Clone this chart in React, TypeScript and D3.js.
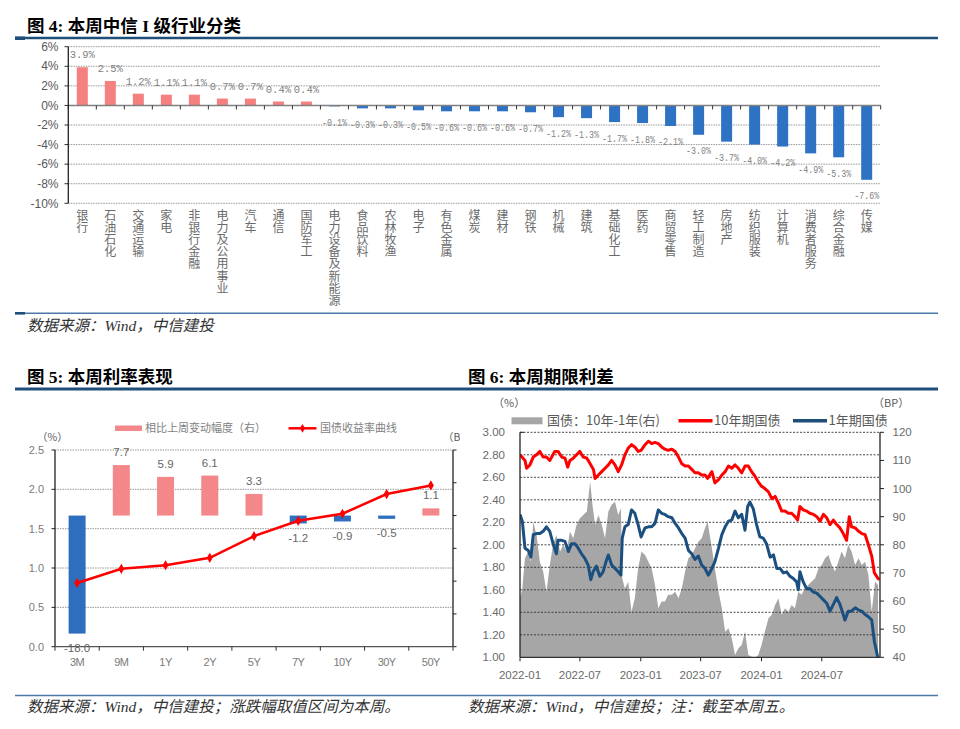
import React from 'react';
import * as d3 from 'd3';

// ---------- 图4 data ----------
const industries = ['银行','石油石化','交通运输','家电','非银行金融','电力及公用事业','汽车','通信','国防军工','电力设备及新能源','食品饮料','农林牧渔','电子','有色金属','煤炭','建材','钢铁','机械','建筑','基础化工','医药','商贸零售','轻工制造','房地产','纺织服装','计算机','消费者服务','综合金融','传媒'];
const industryChange = [3.9,2.5,1.2,1.1,1.1,0.7,0.7,0.4,0.4,-0.1,-0.3,-0.3,-0.5,-0.6,-0.6,-0.6,-0.7,-1.2,-1.3,-1.7,-1.8,-2.1,-3.0,-3.7,-4.0,-4.2,-4.9,-5.3,-7.6];
const fig4Ticks = [6,4,2,0,-2,-4,-6,-8,-10];

// ---------- 图5 data ----------
const tenors = ['3M','9M','1Y','2Y','5Y','7Y','10Y','30Y','50Y'];
const yieldCurve = [0.81,0.99,1.035,1.13,1.405,1.60,1.69,1.94,2.05];
const weeklyChangeBP = [-18.0,7.7,5.9,6.1,3.3,-1.2,-0.9,-0.5,1.1];
const fig5LeftTicks = [0,0.5,1.0,1.5,2.0,2.5];
const fig5RightTicks = [-20,-15,-10,-5,0,5,10];

// ---------- 图6 data (day offset from 2022-01-01, value) ----------
const yield10Y: [number, number][] = [
  [0,2.80],[15,2.75],[20,2.68],[30,2.71],[40,2.78],[50,2.80],[60,2.83],[70,2.78],[80,2.78],[90,2.75],
  [105,2.83],[115,2.83],[126,2.78],[136,2.77],[144,2.69],[151,2.75],[161,2.77],[171,2.80],[181,2.83],[191,2.78],
  [202,2.77],[212,2.72],[222,2.67],[227,2.59],[237,2.62],[247,2.65],[257,2.68],[267,2.71],[277,2.75],[287,2.71],
  [297,2.65],[307,2.71],[317,2.80],[327,2.86],[337,2.89],[347,2.87],[357,2.83],[366,2.84],[378,2.89],[388,2.92],
  [398,2.90],[408,2.91],[418,2.90],[428,2.87],[438,2.85],[448,2.84],[459,2.85],[469,2.83],[479,2.78],[489,2.72],
  [499,2.70],[509,2.70],[519,2.67],[529,2.64],[539,2.64],[549,2.62],[559,2.62],[567,2.59],[580,2.65],[589,2.55],
  [600,2.58],[610,2.62],[620,2.65],[630,2.70],[640,2.68],[650,2.71],[660,2.68],[670,2.64],[680,2.70],[690,2.70],
  [700,2.65],[710,2.61],[720,2.56],[730,2.52],[740,2.50],[751,2.47],[761,2.41],[771,2.43],[781,2.37],[791,2.30],
  [801,2.30],[811,2.28],[821,2.28],[831,2.25],[839,2.22],[846,2.34],[856,2.31],[866,2.30],[876,2.28],[887,2.27],
  [897,2.25],[907,2.21],[917,2.27],[927,2.24],[937,2.18],[947,2.22],[957,2.18],[967,2.15],[977,2.10],[987,2.04],
  [995,2.25],[1002,2.16],[1013,2.15],[1023,2.12],[1033,2.10],[1043,2.09],[1053,2.00],[1063,1.90],[1071,1.75],[1082,1.70],[1086,1.69]
];
const yield1Y: [number, number][] = [
  [0,2.27],[7,2.21],[15,1.97],[25,1.95],[33,1.89],[40,2.09],[50,2.10],[60,2.10],[70,2.12],[80,2.16],
  [90,2.12],[100,2.01],[110,1.92],[115,2.04],[126,2.04],[136,2.03],[146,1.94],[156,2.01],[166,2.01],[176,1.97],
  [186,1.92],[196,1.88],[206,1.82],[214,1.69],[221,1.76],[231,1.81],[241,1.72],[251,1.76],[262,1.87],[267,1.91],
  [277,1.82],[287,1.79],[297,1.76],[305,1.73],[309,2.06],[317,2.16],[327,2.18],[337,2.31],[347,2.28],[357,2.18],
  [366,2.07],[378,2.15],[388,2.16],[398,2.16],[408,2.19],[418,2.31],[428,2.28],[438,2.27],[448,2.25],[459,2.24],
  [469,2.19],[479,2.15],[489,2.10],[499,2.06],[509,1.95],[519,1.92],[529,1.87],[539,1.90],[549,1.82],[559,1.79],
  [569,1.73],[580,1.79],[589,1.85],[600,1.97],[610,2.09],[620,2.16],[630,2.21],[640,2.22],[650,2.30],[660,2.24],
  [670,2.27],[680,2.13],[688,2.34],[695,2.38],[705,2.32],[715,2.18],[725,2.07],[735,2.06],[745,2.01],[756,1.89],
  [766,1.91],[776,1.79],[786,1.79],[796,1.75],[806,1.76],[816,1.72],[826,1.70],[836,1.67],[841,1.60],[846,1.76],
  [856,1.67],[866,1.61],[876,1.61],[887,1.58],[897,1.57],[907,1.54],[917,1.51],[927,1.48],[937,1.41],[947,1.47],
  [957,1.53],[967,1.47],[977,1.38],[982,1.33],[992,1.41],[1002,1.41],[1013,1.44],[1023,1.42],[1033,1.41],[1043,1.38],
  [1053,1.36],[1063,1.33],[1071,1.14],[1082,0.99],[1086,0.98]
];
const spread10Y1Y: [number, number][] = [
  [0,61.0],[7,64.5],[15,75.2],[25,77.6],[33,74.0],[40,88.2],[50,83.5],[60,74.0],[70,70.5],[80,63.3],
  [90,72.8],[100,80.0],[110,83.5],[121,77.6],[131,80.0],[141,77.6],[151,84.7],[161,82.3],[171,87.1],[181,89.4],
  [191,90.6],[202,91.8],[212,102.5],[219,94.2],[227,87.1],[237,90.6],[247,87.1],[257,82.3],[267,91.8],[277,94.2],
  [287,95.3],[297,90.6],[305,93.0],[309,68.1],[317,64.5],[327,66.9],[337,56.2],[347,61.0],[357,71.6],[367,77.6],
  [378,76.4],[388,74.0],[398,71.6],[408,65.7],[418,57.4],[428,59.8],[438,59.8],[448,62.2],[459,62.2],[469,63.3],
  [479,61.0],[489,64.5],[499,70.5],[509,75.2],[519,76.4],[529,78.8],[539,81.1],[549,82.3],[559,85.9],[567,88.2],
  [580,78.8],[589,71.6],[600,63.3],[610,57.4],[620,49.1],[630,50.3],[640,46.8],[650,40.8],[660,43.2],[670,44.4],
  [680,49.1],[690,40.8],[700,40.2],[710,39.6],[720,40.8],[730,44.4],[740,49.1],[751,53.9],[761,55.1],[771,58.6],
  [781,61.0],[791,55.1],[801,57.4],[811,56.2],[821,58.6],[831,57.4],[841,63.3],[851,62.2],[861,64.5],[871,65.7],
  [881,66.9],[892,68.1],[902,71.6],[912,72.8],[922,75.2],[932,76.4],[942,72.8],[952,70.5],[962,74.0],[972,77.6],
  [982,75.2],[992,80.0],[1002,77.6],[1013,72.8],[1023,75.2],[1033,72.8],[1043,74.0],[1053,69.3],[1063,56.2],[1073,66.9],[1082,65.7]
];
const fig6LeftTicks = [1.0,1.2,1.4,1.6,1.8,2.0,2.2,2.4,2.6,2.8,3.0];
const fig6RightTicks = [40,50,60,70,80,90,100,110,120];
const fig6DateTicks = ['2022-01','2022-07','2023-01','2023-07','2024-01','2024-07'];

const SANS = "'Liberation Sans', Arial, sans-serif";
const CJK = "'Noto Sans CJK SC', sans-serif";
const TITLE = "'Liberation Serif', 'Noto Sans CJK SC', serif";
const MONO = "'Liberation Mono', monospace";
const POS4 = '#f4817f';
const NEG4 = '#2e72c3';
const NAVY = '#1f4e79';
const RULE = '#4a79a8';

export default function App() {
  // ---- fig 4 scales ----
  const x4 = d3.scaleBand<string>().domain(industries).range([68.3, 880.7]);
  const y4 = d3.scaleLinear().domain([-10, 6]).range([203.3, 46.7]);
  const bw4 = 11;

  // ---- fig 5 scales ----
  const x5 = d3.scaleBand<string>().domain(tenors).range([55, 453]);
  const y5L = d3.scaleLinear().domain([0, 2.5]).range([646.7, 450]);
  const y5R = d3.scaleLinear().domain([-20, 10]).range([646.7, 450]);
  const bw5 = 17;
  const line5 = d3.line<number>()
    .x((_, i) => (x5(tenors[i]) as number) + x5.bandwidth() / 2)
    .y((d) => y5L(d));

  // ---- fig 6 scales ----
  const day0 = new Date(2022, 0, 1);
  const toDate = (d: number) => d3.timeDay.offset(day0, d);
  const x6 = d3.scaleTime().domain([day0, toDate(1088)]).range([520, 880]);
  const y6L = d3.scaleLinear().domain([1, 3]).range([657.3, 432.3]);
  const y6R = d3.scaleLinear().domain([40, 120]).range([657.3, 432.3]);
  const parseMonth = d3.timeParse('%Y-%m');
  const line6 = d3.line<[number, number]>().x((d) => x6(toDate(d[0]))).y((d) => y6L(d[1]));
  const area6 = d3.area<[number, number]>()
    .x((d) => x6(toDate(d[0])))
    .y0(y6R(30))
    .y1((d) => y6R(d[1]));

  return (
    <svg width={960} height={729} style={{ position: 'absolute', left: 0, top: 0, background: '#fff' }}>
      <defs>
        <clipPath id="clip6"><rect x={520} y={432.3} width={360} height={225} /></clipPath>
        <clipPath id="clip5r"><rect x={0} y={380} width={460} height={80} /></clipPath>
      </defs>

      {/* ================= 图4 ================= */}
      <text x={27} y={32} fontFamily={TITLE} fontWeight="bold" fontSize={17.5} fill="#000">图 4: 本周中信 I 级行业分类</text>
      <line x1={15} x2={938} y1={38} y2={38} stroke={NAVY} strokeWidth={2.5} />
      <rect x={15} y={36.5} width={10} height={3.5} fill={NAVY} />

      {fig4Ticks.filter((t) => t !== 0).map((t) => (
        <line key={'g4' + t} x1={68.3} x2={880.7} y1={y4(t)} y2={y4(t)} stroke="#8c8c8c" strokeWidth={0.9} strokeDasharray="1.5,1" />
      ))}
      {fig4Ticks.map((t) => (
        <g key={'t4' + t}>
          <line x1={64.5} x2={68.3} y1={y4(t)} y2={y4(t)} stroke="#333" strokeWidth={1} />
          <text x={58.5} y={y4(t)} dy="0.35em" textAnchor="end" fontFamily={SANS} fontSize={12} fill="#595959">{t}%</text>
        </g>
      ))}
      {industries.map((c, i) => {
        const v = industryChange[i];
        const cx = (x4(c) as number) + x4.step() / 2;
        const top = y4(Math.max(v, 0));
        const h = Math.abs(y4(v) - y4(0));
        return <rect key={'b4' + c} x={cx - bw4 / 2} y={top} width={bw4} height={h} fill={v >= 0 ? POS4 : NEG4} />;
      })}
      <line x1={68.3} x2={880.7} y1={y4(0)} y2={y4(0)} stroke="#808080" strokeWidth={1.5} />
      {d3.range(industries.length + 1).map((k) => (
        <line key={'xt4' + k} x1={68.3 + k * x4.step()} x2={68.3 + k * x4.step()} y1={y4(0)} y2={y4(0) + 4} stroke="#333" strokeWidth={1} />
      ))}
      <line x1={68.3} x2={68.3} y1={46.7} y2={203.3} stroke="#222" strokeWidth={1.3} />
      {industries.map((c, i) => {
        const v = industryChange[i];
        const cx = (x4(c) as number) + x4.step() / 2;
        const yy = v >= 0 ? y4(v) - 9 : y4(v) + 19.5;
        const label = v.toFixed(1) + '%';
        return (
          <text key={'l4' + c} x={cx} y={yy} textAnchor="middle" fontFamily={MONO} fontSize={10.5} fill="#7f7f7f"
            textLength={label.length > 4 ? 25 : undefined} lengthAdjust="spacingAndGlyphs">{label}</text>
        );
      })}
      {industries.map((c) => {
        const cx = (x4(c) as number) + x4.step() / 2;
        return (
          <text key={'v4' + c} x={cx} y={209.5} fontFamily={CJK} fontSize={12} fill="#6a6a6a"
            style={{ writingMode: 'vertical-rl', textOrientation: 'upright' } as any} letterSpacing={0.1}>{c}</text>
        );
      })}
      <line x1={15} x2={938} y1={313.3} y2={313.3} stroke={RULE} strokeWidth={1.5} />
      <rect x={15} y={312} width={10} height={2.6} fill={NAVY} />
      <text x={27} y={331} fontFamily={TITLE} fontStyle="italic" fontSize={15.5} fill="#333">数据来源：Wind，中信建投</text>

      {/* ================= 图5 ================= */}
      <text x={27} y={383} fontFamily={TITLE} fontWeight="bold" fontSize={17.5} fill="#000">图 5: 本周利率表现</text>
      <line x1={15} x2={938} y1={389} y2={389} stroke={NAVY} strokeWidth={3} />

      <rect x={115} y={425.5} width={27} height={5.5} fill="#f4878a" />
      <text x={145} y={428.3} dy="0.35em" fontFamily={CJK} fontSize={11} fill="#7f7f7f">相比上周变动幅度（右）</text>
      <line x1={288.5} x2={316.5} y1={428.3} y2={428.3} stroke="#ff0000" strokeWidth={2.5} />
      <path d={d3.symbol(d3.symbolDiamond, 22)() as string} transform="translate(302.5,428.3)" fill="#ff0000" />
      <text x={320} y={428.3} dy="0.35em" fontFamily={CJK} fontSize={11} fill="#7f7f7f">国债收益率曲线</text>

      <text x={37} y={437.5} dy="0.35em" fontFamily={CJK} fontSize={10.5} fill="#595959">（%）</text>
      <g clipPath="url(#clip5r)">
        <text x={443} y={437.5} dy="0.35em" fontFamily={CJK} fontSize={10.5} fill="#595959">（BP）</text>
      </g>

      {fig5LeftTicks.filter((t) => t > 0).map((t) => (
        <line key={'g5' + t} x1={55} x2={453} y1={y5L(t)} y2={y5L(t)} stroke="#8c8c8c" strokeWidth={0.9} strokeDasharray="1.5,1" />
      ))}
      {fig5LeftTicks.map((t) => (
        <g key={'lt5' + t}>
          <line x1={51.5} x2={55} y1={y5L(t)} y2={y5L(t)} stroke="#222" strokeWidth={1} />
          <text x={44} y={y5L(t)} dy="0.35em" textAnchor="end" fontFamily={SANS} fontSize={11} fill="#7a7a7a">{t.toFixed(1)}</text>
        </g>
      ))}
      {fig5RightTicks.map((t) => (
        <line key={'rt5' + t} x1={453} x2={456.5} y1={y5R(t)} y2={y5R(t)} stroke="#222" strokeWidth={1} />
      ))}
      {tenors.map((c, i) => {
        const v = weeklyChangeBP[i];
        const cx = (x5(c) as number) + x5.bandwidth() / 2;
        const top = y5R(Math.max(v, 0));
        const h = Math.abs(y5R(v) - y5R(0));
        return <rect key={'b5' + c} x={cx - bw5 / 2} y={top} width={bw5} height={h} fill={v >= 0 ? '#f4878a' : '#2e6ebf'} />;
      })}
      <line x1={55} x2={55} y1={450} y2={646.7} stroke="#222" strokeWidth={1.3} />
      <line x1={453} x2={453} y1={450} y2={646.7} stroke="#222" strokeWidth={1.3} />
      <line x1={55} x2={453} y1={646.7} y2={646.7} stroke="#555" strokeWidth={1.2} />
      {d3.range(tenors.length + 1).map((k) => (
        <line key={'xt5' + k} x1={55 + k * x5.step()} x2={55 + k * x5.step()} y1={646.7} y2={650.7} stroke="#333" strokeWidth={1} />
      ))}
      <path d={line5(yieldCurve) as string} fill="none" stroke="#ff0000" strokeWidth={2.5} />
      {yieldCurve.map((v, i) => (
        <path key={'m5' + i} d={d3.symbol(d3.symbolDiamond, 30)() as string}
          transform={`translate(${(x5(tenors[i]) as number) + x5.bandwidth() / 2},${y5L(v)})`} fill="#ff0000" />
      ))}
      {tenors.map((c, i) => {
        const v = weeklyChangeBP[i];
        const cx = (x5(c) as number) + x5.bandwidth() / 2;
        const yy = v >= 0 ? y5R(v) - 13 : y5R(v) + 14.5;
        return <text key={'l5' + c} x={cx} y={yy} dy="0.35em" textAnchor="middle" fontFamily={SANS} fontSize={11.5} fill="#666">{v.toFixed(1)}</text>;
      })}
      {tenors.map((c) => (
        <text key={'x5' + c} x={(x5(c) as number) + x5.bandwidth() / 2} y={662.5} dy="0.35em" textAnchor="middle" fontFamily={SANS} fontSize={11} fill="#7a7a7a" letterSpacing={-0.5}>{c}</text>
      ))}
      <line x1={15} x2={938} y1={695.5} y2={695.5} stroke={RULE} strokeWidth={1.5} />
      <text x={27} y={712} fontFamily={TITLE} fontStyle="italic" fontSize={15.5} fill="#333">数据来源：Wind，中信建投；涨跌幅取值区间为本周。</text>

      {/* ================= 图6 ================= */}
      <text x={468} y={383} fontFamily={TITLE} fontWeight="bold" fontSize={17.5} fill="#000">图 6: 本周期限利差</text>
      <text x={493} y={403.5} dy="0.35em" fontFamily={CJK} fontSize={11} fill="#595959">（%）</text>
      <text x={873} y={403.5} dy="0.35em" fontFamily={CJK} fontSize={11} fill="#595959">（BP）</text>

      <rect x={511.5} y={417.3} width={31} height={7} fill="#a6a6a6" />
      <text x={547} y={420.7} dy="0.35em" fontFamily={CJK} fontSize={13} fill="#595959">国债：10年-1年(右)</text>
      <line x1={678.5} x2={712.5} y1={420.7} y2={420.7} stroke="#ff0000" strokeWidth={3.5} />
      <text x={714} y={420.7} dy="0.35em" fontFamily={CJK} fontSize={13} fill="#595959">10年期国债</text>
      <line x1={793} x2={827} y1={420.7} y2={420.7} stroke="#1f4e79" strokeWidth={3.5} />
      <text x={828.5} y={420.7} dy="0.35em" fontFamily={CJK} fontSize={13} fill="#595959">1年期国债</text>

      <path d={area6(spread10Y1Y) as string} fill="#a6a6a6" clipPath="url(#clip6)" />
      {fig6LeftTicks.filter((t) => t > 1).map((t) => (
        <line key={'g6' + t} x1={520} x2={880} y1={y6L(t)} y2={y6L(t)} stroke="#333" strokeWidth={0.9} strokeDasharray="2,1.5" />
      ))}
      <g clipPath="url(#clip6)">
        <path d={line6(yield10Y) as string} fill="none" stroke="#ff0000" strokeWidth={3} strokeLinejoin="round" />
        <path d={line6(yield1Y) as string} fill="none" stroke="#1b4f80" strokeWidth={3} strokeLinejoin="round" />
      </g>
      <line x1={520} x2={520} y1={432.3} y2={657.3} stroke="#222" strokeWidth={1.3} />
      <line x1={880} x2={880} y1={432.3} y2={657.3} stroke="#222" strokeWidth={1.3} />
      <line x1={520} x2={880} y1={657.3} y2={657.3} stroke="#333" strokeWidth={1.3} />
      {fig6LeftTicks.map((t) => (
        <text key={'lt6' + t} x={505} y={y6L(t)} dy="0.35em" textAnchor="end" fontFamily={SANS} fontSize={11.5} fill="#6a6a6a">{t.toFixed(2)}</text>
      ))}
      <line x1={520} x2={524} y1={432.3} y2={432.3} stroke="#222" strokeWidth={1} />
      {fig6RightTicks.map((t) => (
        <g key={'rt6' + t}>
          <line x1={880} x2={884} y1={y6R(t)} y2={y6R(t)} stroke="#222" strokeWidth={1} />
          <text x={892.5} y={y6R(t)} dy="0.35em" fontFamily={SANS} fontSize={11.5} fill="#6a6a6a">{t}</text>
        </g>
      ))}
      {fig6DateTicks.map((s) => {
        const xx = x6(parseMonth(s) as Date);
        return (
          <g key={'xt6' + s}>
            <line x1={xx} x2={xx} y1={657.3} y2={661.3} stroke="#222" strokeWidth={1} />
            <text x={xx} y={675} dy="0.35em" textAnchor="middle" fontFamily={SANS} fontSize={11.5} fill="#6a6a6a">{s}</text>
          </g>
        );
      })}
      <text x={468} y={712} fontFamily={TITLE} fontStyle="italic" fontSize={15.5} fill="#333">数据来源：Wind，中信建投；注：截至本周五。</text>
    </svg>
  );
}
